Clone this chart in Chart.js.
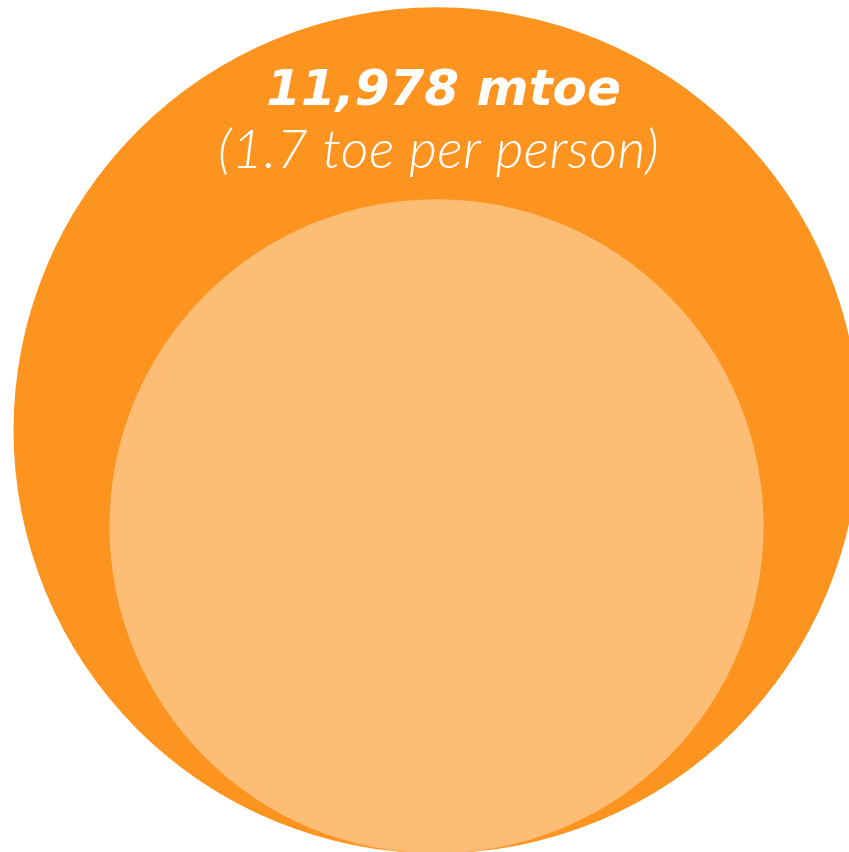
<!DOCTYPE html>
<html>
<head>
<meta charset="utf-8">
<title>Energy demand</title>
<script src="https://cdn.jsdelivr.net/npm/chart.js@4.4.1/dist/chart.umd.min.js"></script>
<style>
    html, body { margin: 0; padding: 0; background: #ffffff; }
    #wrap { width: 849px; height: 852px; overflow: hidden; }
</style>
</head>
<body>
<div id="wrap"><canvas id="energy-bubbles" width="849" height="852"></canvas></div>
<script>
// nested bubbles, outer = total demand, inner = part of it (mtoe)
var seriesNames = ['Total', 'Share'];
var seriesValues = [11978, 7160];
var seriesColors = ['#fe9420', '#fdbd74'];
var headline = ['11,978 mtoe', '(1.7 toe per person)'];

var PX_PER_UNIT = 3.865; // pixels per sqrt(mtoe)
var Y_MIN = 0.33;

var bubbles = seriesValues.map(function (v, i) {
    return {
        label: seriesNames[i],
        data: [{ x: 0, y: Math.sqrt(v), r: PX_PER_UNIT * Math.sqrt(v) }],
        backgroundColor: seriesColors[i],
        borderWidth: 0,
        hoverBorderWidth: 0,
        hoverRadius: 0,
        order: seriesValues.length - i, // bigger bubble goes underneath
        clip: false
    };
});

var headlinePlugin = {
    id: 'headline',
    afterDatasetsDraw: function (chart) {
        var ctx = chart.ctx;
        var cx = chart.scales.x.getPixelForValue(0);
        ctx.save();
        ctx.fillStyle = '#ffffff';
        ctx.textAlign = 'center';
        ctx.textBaseline = 'alphabetic';
        ctx.font = 'oblique bold 50px "DejaVu Sans"';
        ctx.fillText(headline[0], cx + 7, 105);
        ctx.font = 'italic 300 54px Lato';
        ctx.letterSpacing = '0.5px';
        ctx.fillText(headline[1], cx + 2, 168);
        ctx.restore();
    }
};

var canvas = document.getElementById('energy-bubbles');
new Chart(canvas, {
    type: 'bubble',
    data: { datasets: bubbles },
    options: {
        responsive: false,
        animation: false,
        events: [],
        layout: { padding: 0, autoPadding: false },
        scales: {
            x: { display: false, min: -1, max: 412.5 / 436.5 },
            y: { display: false, min: Y_MIN, max: 852 / PX_PER_UNIT + Y_MIN }
        },
        plugins: {
            legend: { display: false },
            tooltip: { enabled: false }
        }
    },
    plugins: [headlinePlugin]
});
</script>
</body>
</html>
